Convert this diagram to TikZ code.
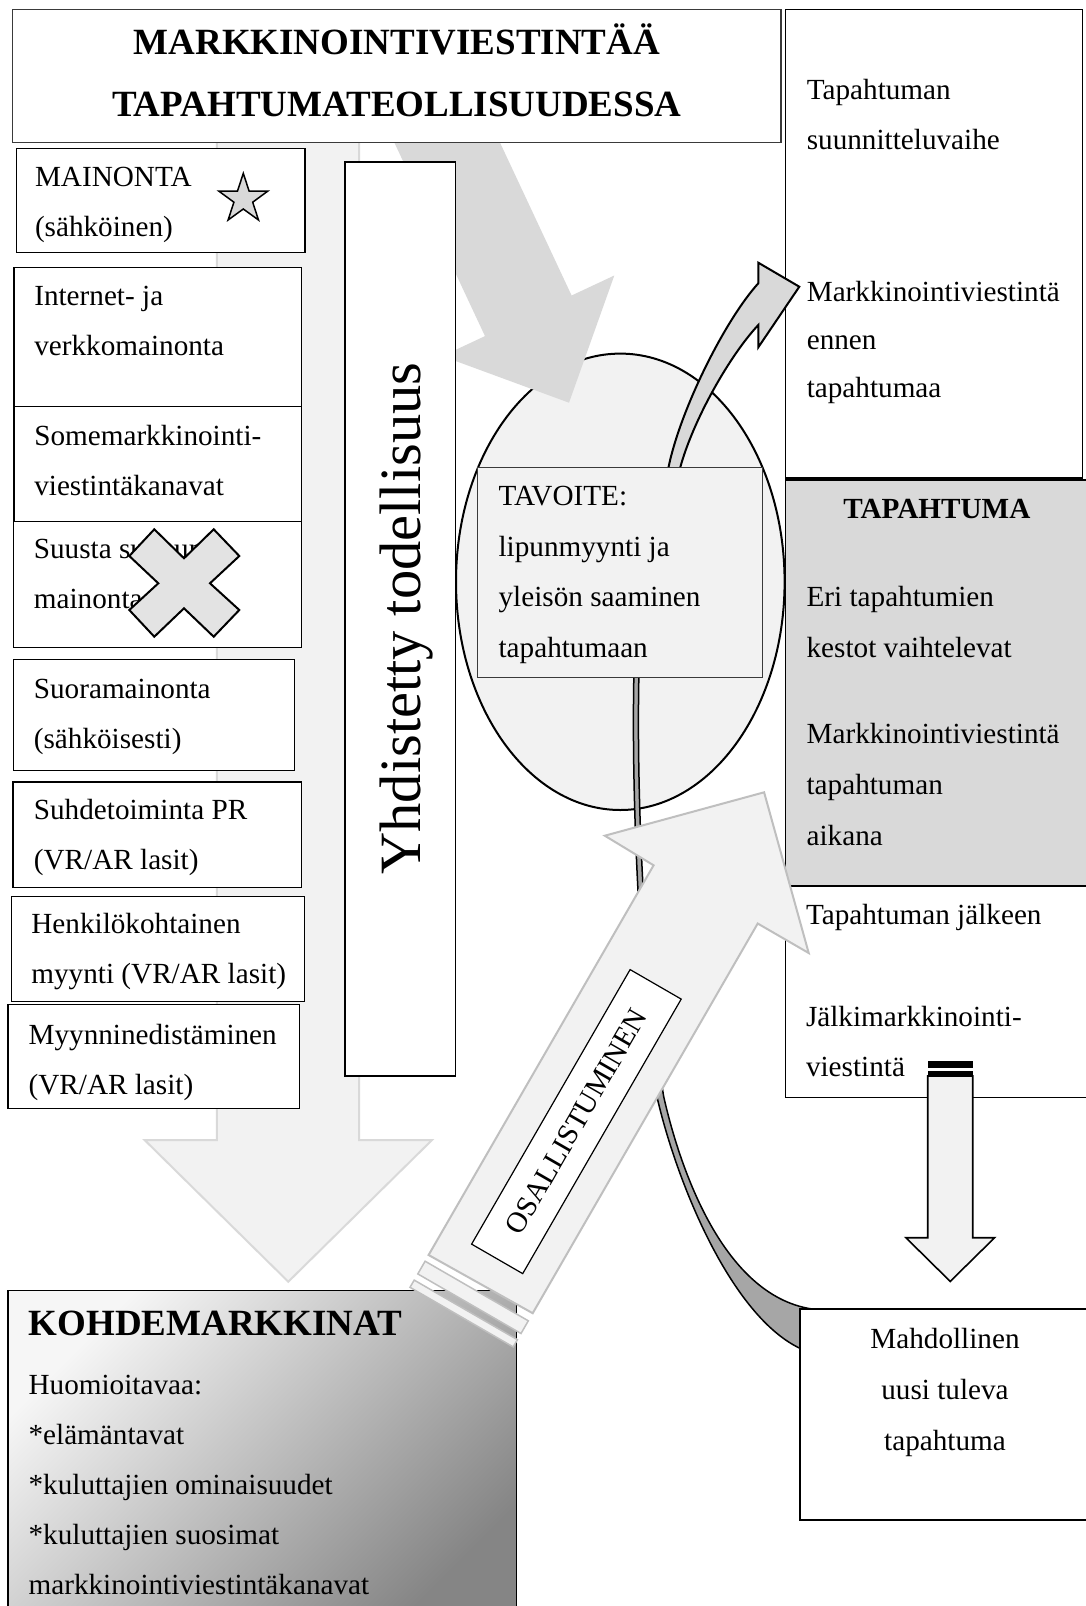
\documentclass[tikz,border=0pt]{standalone}
\usepackage{fontspec}
\setmainfont{Liberation Serif}
\usetikzlibrary{shapes.geometric}

\definecolor{palegray}{HTML}{F2F2F2}
\definecolor{midgray}{HTML}{D9D9D9}
\definecolor{crossgray}{HTML}{E3E3E3}
\definecolor{bandgray}{HTML}{A6A6A6}
\definecolor{edgegray}{HTML}{BFBFBF}
\definecolor{shadelight}{HTML}{F6F6F6}
\definecolor{shadedark}{HTML}{858585}
\definecolor{framegray}{HTML}{3A3A3A}

\newcommand\bodyfont[1]{\fontsize{29.2}{#1}\selectfont}
\newcommand\headfont{\bfseries\fontsize{37}{62}\selectfont}

\begin{document}
\begin{tikzpicture}[x=1pt,y=-1pt,
  box/.style={draw=black, line width=1.3pt, fill=white, inner sep=0pt, outer sep=0pt, anchor=north west},
  txt/.style={anchor=north west, inner sep=0pt, outer sep=0pt, align=left, font=\bodyfont{50}},
  blockarrow/.style={line width=2pt, line join=miter},
]
\useasboundingbox (0,0) rectangle (1086,1606);
\clip (0,0) rectangle (1086,1606);
\fill[white] (0,0) rectangle (1086,1606);

% wide pale arrow running down behind the channel column
\path[fill=palegray, draw=midgray, blockarrow] (216.8,130) -- (216.8,1140) -- (144.6,1140)
  -- (288.3,1281.7) -- (432,1140) -- (359,1140) -- (359,130) -- cycle;

% goal ellipse
\node[ellipse, draw=black, line width=2pt, fill=palegray, minimum width=328.6pt,
  minimum height=456.4pt, inner sep=0pt] (goal) at (620.3,581.8) {};

% grey arrow from the heading towards the goal
\fill[midgray] (381.5,115.1) -- (485.0,336.1) -- (442.3,356.1) -- (569,402.7)
  -- (614.3,275.5) -- (571.6,295.5) -- (468.1,74.5) -- cycle;

% heading
\node[box, draw=framegray, minimum width=768.5pt, minimum height=133.4pt] (title) at (12.5,9.3) {};
\node[anchor=north, inner sep=0pt, align=center, font=\headfont] (titletext) at (396.8,11.1)
  {\strut MARKKINOINTIVIESTINTÄÄ\\\strut TAPAHTUMATEOLLISUUDESSA};

% channel column
\node[box, minimum width=288.3pt, minimum height=104.4pt] (mainonta) at (16.7,148.3) {};
\node[txt] (mainontatext) at (35,151.7) {\strut MAINONTA\\\strut (sähköinen)};

\node[box, minimum width=287.7pt, minimum height=139.4pt] (internet) at (14,267.3) {};
\node[txt] (internettext) at (34.3,270.7) {\strut Internet- ja\\\strut verkkomainonta};

\node[box, minimum width=287.7pt, minimum height=114.6pt] (some) at (14,406.7) {};
\node[txt] (sometext) at (34.3,410.7) {\strut Somemarkkinointi-\\\strut viestintäkanavat};

\node[box, minimum width=288.6pt, minimum height=126pt] (suusta) at (13.2,521.3) {};
\node[txt] (suustatext) at (33.9,523.5) {\strut Suusta suuhun\\\strut mainonta};

\node[box, minimum width=281.4pt, minimum height=111pt] (suora) at (13.2,659.6) {};
\node[txt] (suoratext) at (33.9,663.5) {\strut Suoramainonta\\\strut (sähköisesti)};

\node[box, minimum width=288.9pt, minimum height=105.3pt] (suhde) at (12.9,782) {};
\node[txt] (suhdetext) at (33.9,784.5) {\strut Suhdetoiminta PR\\\strut (VR/AR lasit)};

\node[box, minimum width=292.5pt, minimum height=105.3pt] (henk) at (11.8,896.3) {};
\node[txt] (henktext) at (31.4,898.5) {\strut Henkilökohtainen\\\strut myynti (VR/AR lasit)};

\node[box, minimum width=291.4pt, minimum height=104.1pt] (myynti) at (7.9,1004.5) {};
\node[txt] (myyntitext) at (28.6,1009) {\strut Myynninedistäminen\\\strut (VR/AR lasit)};

% star marker
\path[fill=midgray, draw=black, line width=1.5pt] (243.3,173.3) -- (249.1,191.1) -- (267.8,191.1)
  -- (252.7,202.2) -- (258.5,220.0) -- (243.3,209.0) -- (228.1,220.0) -- (233.9,202.2)
  -- (218.8,191.1) -- (237.5,191.1) -- cycle;

% cross marker
\path[fill=crossgray, draw=black, line width=2pt, line join=miter] (154.3,529.3) -- (184,558.3)
  -- (213.7,529.3) -- (239.3,556) -- (210,583.3) -- (239.3,610) -- (213.7,636.7) -- (184,608.3)
  -- (154.3,636.7) -- (129.3,610) -- (158.3,583.3) -- (129.3,556) -- cycle;

% mixed reality bar
\node[box, minimum width=110.5pt, minimum height=914pt] (yhd) at (344.9,162) {};
\node[rotate=90, anchor=base, inner sep=0pt, font=\fontsize{58.5}{60}\selectfont] (yhdtext)
  at (420,618.6) {Yhdistetty todellisuus};

% event phase column
\node[box, minimum width=297.4pt, minimum height=468.7pt] (before) at (785.3,9.3) {};
\node[txt] (beforetexta) at (806.8,64.5) {\strut Tapahtuman\\\strut suunnitteluvaihe};
\node[txt, font=\bodyfont{48}] (beforetextb) at (806.8,267.9)
  {\strut Markkinointiviestintä\\\strut ennen\\\strut tapahtumaa};

\node[box, fill=midgray, minimum width=320pt, minimum height=406pt] (event) at (785.5,480) {};
\node[anchor=base, inner sep=0pt, font=\bfseries\bodyfont{50}] (eventhead) at (936.8,518.7) {TAPAHTUMA};
\node[txt, font=\bodyfont{51}] (eventtexta) at (806.6,570.8) {\strut Eri tapahtumien\\\strut kestot vaihtelevat};
\node[txt, font=\bodyfont{51}] (eventtextb) at (806.6,707.3)
  {\strut Markkinointiviestintä\\\strut tapahtuman\\\strut aikana};

\node[box, minimum width=320pt, minimum height=211.5pt] (after) at (785.5,886) {};
\node[txt] (aftertexta) at (806,889) {\strut Tapahtuman jälkeen};
\node[txt] (aftertextb) at (806,991.5) {\strut Jälkimarkkinointi-\\\strut viestintä};

% curved arrow rising from the goal to the pre-event phase
\path[fill=midgray, draw=black, blockarrow] (664,495) -- (668.3,468.3)
  .. controls (680,410) and (725,320) .. (758.3,283.3) -- (758.3,262.7) -- (799.3,286.7)
  -- (758.3,347.3) -- (758.3,325) .. controls (730,355) and (693,420) .. (680,468.3)
  -- (676,495) -- cycle;

% curved band falling from the goal to a possible new event
\path[fill=bandgray, draw=black, line width=1.5pt] (634,670)
  .. controls (631,800) and (640,980) .. (655.6,1090.8)
  .. controls (675,1180) and (735,1330) .. (812,1353) -- (812,1309)
  .. controls (720,1295) and (678,1160) .. (663.7,1096.6)
  .. controls (645,985) and (636,800) .. (639,670) -- cycle;

% goal box
\node[box, fill=palegray, draw=framegray, minimum width=285.1pt, minimum height=210.3pt] (tavoite) at (477.3,467.3) {};
\node[txt, font=\bodyfont{50.5}] (tavoitetext) at (498.6,470.6)
  {\strut TAVOITE:\\\strut lipunmyynti ja\\\strut yleisön saaminen\\\strut tapahtumaan};

% target markets
\node[box, shading=axis, top color=shadelight, bottom color=shadedark, shading angle=45,
  minimum width=508.9pt, minimum height=340pt] (kohde) at (7.9,1290.7) {};
\node[anchor=base west, inner sep=0pt, font=\headfont] (kohdehead) at (28.6,1335.6) {KOHDEMARKKINAT};
\node[txt] (kohdetext) at (28.6,1359)
  {\strut Huomioitavaa:\\\strut *elämäntavat\\\strut *kuluttajien ominaisuudet\\\strut *kuluttajien suosimat\\\strut markkinointiviestintäkanavat};

% participation arrow with its striped tail
\path[fill=palegray, draw=edgegray, blockarrow] (428.6,1255) -- (653.6,865.3) -- (604.8,835.7)
  -- (764.1,792.3) -- (808.7,953) -- (757.7,923.5) -- (532.7,1313.2) -- cycle;
\path[fill=palegray, draw=edgegray, line width=1.5pt] (425.1,1261.2) -- (528.3,1320.8)
  -- (521.0,1333.5) -- (417.8,1273.9) -- cycle;
\path[fill=palegray, draw=edgegray, line width=1.5pt] (414.2,1280.1) -- (517.4,1339.7)
  -- (513.2,1346.9) -- (410.0,1287.3) -- cycle;
\node[draw=black, line width=1.2pt, fill=white, rotate=60, minimum width=317pt, minimum height=59pt,
  inner sep=0pt, font=\bodyfont{35}] (osal) at (576.4,1121.6) {OSALLISTUMINEN};

% striped arrow down to the next event
\fill[black] (927.7,1060.7) rectangle (972.7,1068);
\fill[black] (927.7,1071) rectangle (972.7,1076);
\path[fill=palegray, draw=black, line width=1.6pt, line join=miter] (927.7,1076) -- (927.7,1237.7)
  -- (905.9,1237.7) -- (950.2,1281.4) -- (994.6,1237.7) -- (972.7,1237.7) -- (972.7,1076) -- cycle;

% possible new event
\node[box, minimum width=320pt, minimum height=211pt] (next) at (800,1309) {};
\node[anchor=north, inner sep=0pt, align=center, font=\bodyfont{50.7}] (nexttext) at (945,1313)
  {\strut Mahdollinen\\\strut uusi tuleva\\\strut tapahtuma};
\end{tikzpicture}
\end{document}
